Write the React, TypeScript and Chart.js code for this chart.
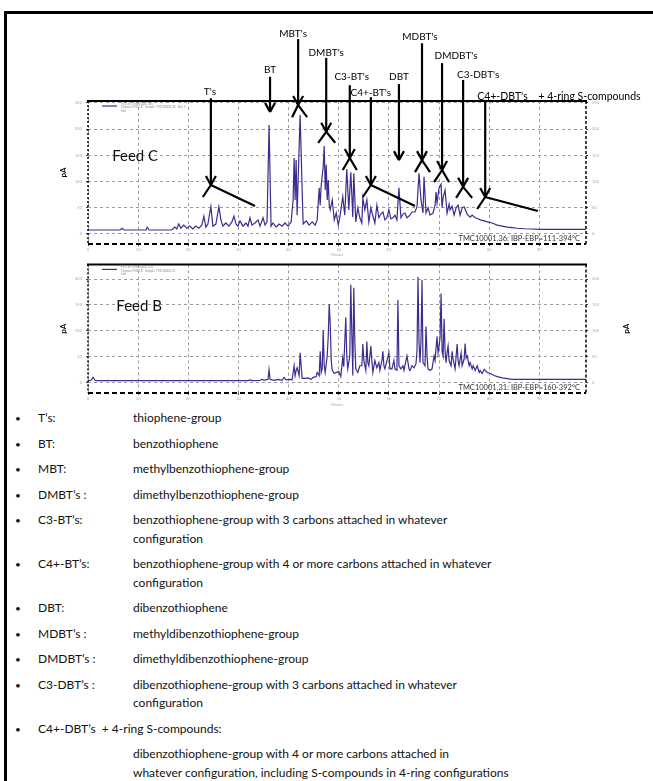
import React, { useEffect, useRef } from "react";
import { Chart, registerables } from "chart.js";

Chart.register(...registerables);

const FONT = "Lato, 'Noto Sans', sans-serif";
const TRACE = "#3d2b8f";

// ---- axes ----
const xTickValues = [0, 10, 20, 30, 40, 50, 60, 70, 80, 90];
const xMaxMinutes = 99.3;
const yTickValues = [0, 50, 100, 150, 200, 250];
const feedCRange = [-19.1, 253.8];
const feedBRange = [-20.8, 228.3];

// ---- Feed C (TMC10001.36) ----
const feedCTime = [
  0, 6.4, 6.8, 7.2, 11.6, 11.8, 12.2, 16.7, 17.3, 17.7,
  18.1, 18.5, 19.1, 19.7, 20.3, 20.9, 21.5, 22.1, 22.7, 23.1,
  23.5, 23.9, 24.5, 24.9, 25.5, 26.1, 26.5, 26.9, 27.5, 28.1,
  28.7, 29.1, 29.5, 29.9, 30.3, 30.9, 31.5, 31.9, 32.3, 32.7,
  33.3, 33.9, 34.3, 34.9, 35.3, 35.7, 36.1, 36.5, 36.9, 37.5,
  38.1, 38.7, 39.3, 39.9, 40.5, 40.9, 41.1, 41.3, 41.5, 41.7,
  41.9, 42.3, 42.7, 42.9, 43.5, 44.1, 44.7, 45.3, 45.7, 46.1,
  46.3, 46.5, 46.9, 47.1, 47.3, 47.5, 47.7, 47.9, 48.1, 48.3,
  48.7, 49.1, 49.5, 49.9, 50.2, 50.8, 51.2, 51.6, 52.0, 52.4,
  52.8, 53.0, 53.4, 53.8, 54.2, 54.6, 54.8, 55.2, 55.6, 56.0,
  56.4, 56.6, 57.2, 57.6, 58.0, 58.4, 58.8, 59.2, 59.6, 60.0,
  60.4, 60.8, 61.2, 61.6, 62.0, 62.4, 62.8, 63.2, 63.6, 64.2,
  64.6, 65.2, 65.6, 66.0, 66.4, 66.8, 67.0, 67.4, 67.8, 68.2,
  68.8, 69.2, 69.4, 69.6, 70.0, 70.4, 70.6, 70.8, 71.2, 71.6,
  72.0, 72.2, 72.6, 73.0, 73.4, 73.8, 74.2, 74.6, 75.0, 75.6,
  76.2, 76.6, 77.2, 77.8, 78.2, 79.0, 79.6, 80.6, 81.6, 82.6,
  83.6, 84.6, 85.6, 87.1, 88.5, 90.1, 99.3,
];
const feedCSignal = [
  7.6, 7.6, 11, 7.6, 7.6, 13, 7.6, 7.6, 13, 9.5,
  19, 11, 17, 11, 15, 9.5, 15, 11, 17, 34,
  13, 19, 52, 15, 19, 52, 27, 15, 21, 15,
  23, 34, 19, 15, 25, 15, 21, 15, 31, 17,
  21, 27, 15, 31, 17, 23, 208, 15, 21, 13,
  19, 15, 21, 15, 23, 65, 145, 65, 141, 36,
  103, 227, 84, 19, 25, 17, 23, 17, 27, 88,
  55, 93, 128, 168, 84, 132, 65, 103, 55, 46,
  65, 27, 40, 17, 31, 71, 36, 124, 46, 118,
  32, 116, 23, 50, 31, 21, 69, 46, 65, 23,
  50, 42, 21, 55, 31, 38, 42, 27, 31, 46,
  29, 31, 36, 27, 88, 31, 38, 40, 31, 36,
  42, 42, 52, 116, 65, 40, 109, 40, 50, 36,
  40, 55, 80, 59, 88, 95, 50, 69, 84, 40,
  57, 46, 53, 36, 50, 55, 36, 50, 52, 38,
  32, 36, 31, 29, 27, 25, 23, 21, 17, 15,
  13, 12, 11, 10, 9.5, 9, 9,
];

// ---- Feed B (TMC10001.31) ----
const feedBTime = [
  0, 0.6, 1.0, 1.4, 1.8, 31.9, 32.3, 32.7, 34.3, 34.7,
  35.1, 35.9, 36.1, 36.3, 37.1, 37.9, 38.7, 39.1, 39.5, 40.3,
  40.7, 41.1, 41.3, 41.5, 41.7, 42.1, 42.3, 42.7, 43.3, 43.9,
  44.5, 44.9, 45.5, 45.7, 46.1, 46.3, 46.5, 46.7, 46.9, 47.1,
  47.3, 47.7, 47.9, 48.1, 48.3, 48.5, 48.7, 49.1, 49.5, 49.7,
  50.0, 50.4, 50.8, 51.0, 51.4, 51.6, 51.8, 52.2, 52.4, 52.6,
  52.8, 53.0, 53.2, 53.4, 53.8, 54.2, 54.6, 54.8, 55.0, 55.4,
  55.6, 55.8, 56.0, 56.4, 56.6, 56.8, 57.2, 57.6, 58.0, 58.2,
  58.6, 58.8, 59.0, 59.2, 59.6, 60.0, 60.2, 60.6, 61.0, 61.2,
  61.6, 61.8, 62.0, 62.4, 62.8, 63.0, 63.4, 63.6, 64.0, 64.2,
  64.6, 65.0, 65.4, 65.6, 65.8, 66.0, 66.2, 66.4, 66.6, 66.8,
  67.2, 67.4, 67.6, 67.8, 68.2, 68.6, 69.0, 69.2, 69.6, 69.8,
  70.0, 70.2, 70.4, 70.6, 70.8, 71.0, 71.2, 71.4, 71.6, 71.8,
  72.0, 72.4, 72.6, 72.8, 73.2, 73.6, 73.8, 74.0, 74.4, 74.6,
  75.0, 75.2, 75.4, 75.6, 76.0, 76.2, 76.6, 76.8, 77.2, 77.6,
  78.0, 78.2, 78.6, 79.0, 79.6, 80.2, 81.0, 81.6, 82.6, 83.6,
  84.6, 85.6, 99.3,
];
const feedBSignal = [
  3.2, 3.8, 9.4, 3.8, 3.2, 3.2, 4.7, 3.2, 3.8, 5.7,
  3.8, 5.7, 24.5, 5.7, 3.8, 5.7, 3.8, 9.4, 4.7, 5.7,
  4.7, 32, 13, 23, 28, 13, 57, 7.5, 7.5, 8.5,
  5.7, 9.4, 11, 19, 13, 60, 19, 26, 100, 32,
  19, 51, 89, 151, 113, 42, 23, 17, 19, 19,
  21, 11, 47, 30, 126, 51, 26, 51, 189, 98,
  13, 183, 79, 26, 19, 32, 32, 74, 42, 23,
  79, 38, 32, 70, 42, 19, 42, 28, 38, 23,
  42, 60, 32, 26, 42, 57, 26, 26, 42, 26,
  23, 160, 32, 26, 32, 23, 42, 51, 26, 23,
  32, 28, 36, 60, 204, 79, 38, 79, 198, 38,
  32, 108, 51, 26, 23, 26, 51, 42, 89, 57,
  70, 87, 172, 60, 51, 123, 60, 38, 57, 70,
  42, 32, 60, 45, 26, 74, 42, 32, 57, 32,
  45, 75, 47, 51, 32, 38, 26, 32, 23, 32,
  19, 23, 17, 25, 19, 17, 13, 11, 8.5, 7,
  5.7, 5.7, 5.7,
];

// ---- compound-group markers on Feed C (minutes / signal units) ----
const markerLabels = ["T's", "BT", "MBT's", "DMBT's", "C3-BT's", "C4+-BT's", "DBT", "MDBT's", "DMDBT's", "C3-DBT's", "C4+-DBT's    + 4-ring S-compounds"];
const markerLabelX = [24.3, 36.3, 40.9, 47.5, 52.6, 56.4, 62.0, 66.2, 73.4, 77.8, 77.6];
const markerLabelY = [271, 313, 383, 345, 300, 269, 300, 376, 340, 303, 263];
const markerLabelAlign = ["center", "center", "center", "center", "center", "center", "center", "center", "center", "center", "left"];
const markerX = [24.5, 36.3, 41.9, 47.5, 52.2, 56.4, 62.0, 66.6, 70.6, 74.8, 79.2];
const markerLineTop = [259, 300, 372, 336, 284, 261, 286, 364, 326, 294, 256];
const markerTip = [93.5, 233, 246, 195, 145, 93.5, 141, 141, 122, 90, 70.6];
const markerLegLeft = [[22.9, 70.6], null, [40.7, 223], [45.9, 174], [50.8, 122], [54.8, 70.6], null, [65.2, 118], [69.0, 99], [73.4, 69], [77.6, 47.7]];
const markerLegRight = [[33.3, 53.4], null, [43.7, 223], [49.3, 174], [53.6, 122], [65.2, 53.4], null, [68.2, 118], [72.0, 99], [76.6, 69], [89.7, 43.9]];

// ---- legend list ----
const listLabels = ["T\u2019s:", "BT:", "MBT:", "DMBT\u2019s :", "C3-BT\u2019s:", "C4+-BT\u2019s:", "DBT:", "MDBT\u2019s :", "DMDBT\u2019s :", "C3-DBT\u2019s :", "C4+-DBT\u2019s  + 4-ring S-compounds:"];
const listDescriptions = [
  ["thiophene-group"],
  ["benzothiophene"],
  ["methylbenzothiophene-group"],
  ["dimethylbenzothiophene-group"],
  ["benzothiophene-group with 3 carbons attached in whatever", "configuration"],
  ["benzothiophene-group with 4 or more carbons attached in whatever", "configuration"],
  ["dibenzothiophene"],
  ["methyldibenzothiophene-group"],
  ["dimethyldibenzothiophene-group"],
  ["dibenzothiophene-group with 3 carbons attached in whatever", "configuration"],
  ["dibenzothiophene-group with 4 or more carbons attached in", "whatever configuration, including S-compounds in 4-ring configurations"],
];

type PanelCfg = {
  title: string;
  titleX: number;
  titleY: number;
  sample: string;
  legendLines: string[];
  rightBlob: boolean;
  markers: boolean;
};

function makePanelPlugin(cfg: PanelCfg) {
  return {
    id: "panel",
    afterDraw(chart: any) {
      const { ctx, chartArea: a, scales } = chart;
      const X = (v: number) => scales.x.getPixelForValue(v);
      const Y = (v: number) => scales.y.getPixelForValue(v);
      const seg = (x1: number, y1: number, x2: number, y2: number) => {
        ctx.beginPath();
        ctx.moveTo(x1, y1);
        ctx.lineTo(x2, y2);
        ctx.stroke();
      };
      ctx.save();
      // frame
      ctx.strokeStyle = "#000";
      ctx.lineWidth = 2;
      ctx.setLineDash([]);
      seg(a.left - 1, a.top, a.right + 1, a.top);
      ctx.setLineDash([5, 3]);
      seg(a.left, a.bottom, a.right, a.bottom);
      ctx.lineWidth = 1.5;
      ctx.setLineDash([2, 2]);
      seg(a.left, a.top, a.left, a.bottom);
      ctx.setLineDash([3, 2]);
      seg(a.right, a.top, a.right, a.bottom);
      ctx.setLineDash([]);

      // in-plot legend
      ctx.strokeStyle = TRACE;
      ctx.lineWidth = 1.2;
      seg(a.left + 14, a.top + 5, a.left + 29, a.top + 5);
      ctx.fillStyle = "#8a8a8a";
      ctx.font = `3px ${FONT}`;
      ctx.textAlign = "left";
      ctx.textBaseline = "middle";
      cfg.legendLines.forEach((t, i) => ctx.fillText(t, a.left + 33, a.top + 3 + i * 3.5));

      // feed title
      ctx.fillStyle = "#111";
      ctx.font = `15px ${FONT}`;
      ctx.textAlign = "center";
      ctx.fillText(cfg.title, X(cfg.titleX), Y(cfg.titleY));

      // sample text
      ctx.fillStyle = "#333";
      ctx.font = `7.5px ${FONT}`;
      ctx.textAlign = "right";
      ctx.fillText(cfg.sample, a.right - 6, a.bottom - 5);

      // y-axis title blobs
      const blob = (x: number) => {
        ctx.save();
        ctx.translate(x, (a.top + a.bottom) / 2);
        ctx.rotate(-Math.PI / 2);
        ctx.fillStyle = "#000";
        ctx.font = `bold 8px ${FONT}`;
        ctx.textAlign = "center";
        ctx.fillText("pA", 0, 0);
        ctx.restore();
      };
      blob(a.left - 25);
      if (cfg.rightBlob) blob(a.right + 40);

      // markers
      if (cfg.markers) {
        ctx.strokeStyle = "#000";
        ctx.lineWidth = 2.2;
        ctx.lineCap = "butt";
        markerLabels.forEach((lab, i) => {
          const mx = X(markerX[i]);
          const tipY = Y(markerTip[i]);
          seg(mx, Y(markerLineTop[i]), mx, tipY);
          seg(mx - 5, tipY - 9, mx, tipY);
          seg(mx + 5, tipY - 9, mx, tipY);
          const l = markerLegLeft[i];
          const r = markerLegRight[i];
          if (l) seg(mx, tipY, X(l[0]), Y(l[1]));
          if (r) seg(mx, tipY, X(r[0]), Y(r[1]));
          ctx.fillStyle = "#000";
          ctx.font = `${i === markerLabels.length - 1 ? 10.5 : 10}px ${FONT}`;
          ctx.textAlign = markerLabelAlign[i] as CanvasTextAlign;
          ctx.fillText(lab, X(markerLabelX[i]), Y(markerLabelY[i]));
        });
      }
      ctx.restore();
    },
  };
}

function buildConfig(times: number[], signal: number[], range: number[], padTop: number, xAxisHeight: number, cfg: PanelCfg) {
  const n = Math.min(times.length, signal.length);
  const points = [] as { x: number; y: number }[];
  for (let i = 0; i < n; i++) points.push({ x: times[i], y: signal[i] });
  const yTicks = yTickValues.filter((v) => v <= range[1]);
  const tickFont = { size: 4, family: FONT };
  const yScale = (pos: string, width: number, onArea: boolean) => ({
    position: pos,
    min: range[0],
    max: range[1],
    afterBuildTicks: (s: any) => {
      s.ticks = yTicks.map((v) => ({ value: v }));
    },
    afterFit: (s: any) => {
      s.width = width;
    },
    grid: { display: true, drawOnChartArea: onArea, color: "#9c9c9c", lineWidth: 1, drawTicks: true, tickLength: 2, tickColor: "#444" },
    border: { display: false, dash: [3, 3] },
    ticks: { font: tickFont, color: "#a8a8a8", padding: 4 },
  });
  return {
    type: "line",
    data: {
      datasets: [
        {
          data: points,
          borderColor: TRACE,
          borderWidth: 1.2,
          pointRadius: 0,
          tension: 0,
          fill: false,
        },
      ],
    },
    options: {
      animation: false,
      responsive: false,
      maintainAspectRatio: false,
      layout: { padding: { top: padTop, left: 0, right: 0, bottom: 0 } },
      plugins: { legend: { display: false }, tooltip: { enabled: false } },
      scales: {
        x: {
          type: "linear",
          min: 0,
          max: xMaxMinutes,
          afterBuildTicks: (s: any) => {
            s.ticks = xTickValues.map((v) => ({ value: v }));
          },
          afterFit: (s: any) => {
            s.height = xAxisHeight;
          },
          grid: { color: "#9c9c9c", lineWidth: 1, drawTicks: true, tickLength: 2, tickColor: "#444" },
          border: { display: false, dash: [3, 3] },
          ticks: { font: tickFont, color: "#a8a8a8", padding: 1, maxRotation: 0 },
          title: { display: true, text: "Minutes", font: { size: 3.5, family: FONT }, color: "#a8a8a8", padding: { top: 0, bottom: 1 } },
        },
        y: yScale("left", 88, true),
        y2: yScale("right", 67, false),
      },
    },
    plugins: [makePanelPlugin(cfg)],
  } as any;
}

export default function App() {
  const topRef = useRef<HTMLCanvasElement>(null);
  const botRef = useRef<HTMLCanvasElement>(null);

  useEffect(() => {
    const c1 = new Chart(
      topRef.current as HTMLCanvasElement,
      buildConfig(feedCTime, feedCSignal, feedCRange, 101, 14, {
        title: "Feed C",
        titleX: 9.4,
        titleY: 149,
        sample: "TMC10001.36: IBP-EBP=111-394\u00B0C",
        legendLines: ["FID1 B, (TMC10001.36)", "Channel: FID1 B   Sample: TMC10001.36   Run 1", "5ml"],
        rightBlob: false,
        markers: true,
      })
    );
    const c2 = new Chart(
      botRef.current as HTMLCanvasElement,
      buildConfig(feedBTime, feedBSignal, feedBRange, 3, 15, {
        title: "Feed B",
        titleX: 10.2,
        titleY: 147,
        sample: "TMC10001.31: IBP-EBP=160-392\u00B0C",
        legendLines: ["FID1 B, (TMC10001.31)", "Channel: FID1 B   Sample: TMC10001.31", "5ml"],
        rightBlob: true,
        markers: false,
      })
    );
    return () => {
      c1.destroy();
      c2.destroy();
    };
  }, []);

  const last = listLabels.length - 1;
  return (
    <div style={{ position: "absolute", left: 0, top: 0, width: 653, height: 781, background: "#fff", overflow: "hidden", fontFamily: FONT }}>
      <div style={{ position: "absolute", left: 4, top: 11, width: 700, height: 800, borderLeft: "3px solid #000", borderTop: "3px solid #000" }} />
      <canvas ref={topRef} width={653} height={258} style={{ position: "absolute", left: 0, top: 0, width: 653, height: 258 }} />
      <canvas ref={botRef} width={653} height={150} style={{ position: "absolute", left: 0, top: 258, width: 653, height: 150 }} />
      <div style={{ position: "absolute", left: 0, top: 409, width: 653, fontSize: 12, lineHeight: "18.5px", color: "#111" }}>
        {listLabels.map((lab, i) => (
          <div key={i} style={{ position: "relative", marginTop: i ? 7 : 0 }}>
            <span style={{ position: "absolute", left: 15, fontSize: 10 }}>{"\u2022"}</span>
            {i < last ? (
              <>
                <span style={{ position: "absolute", left: 38, whiteSpace: "pre" }}>{lab}</span>
                <div style={{ marginLeft: 133 }}>
                  {listDescriptions[i].map((t, j) => (
                    <div key={j} style={{ whiteSpace: "pre" }}>{t}</div>
                  ))}
                </div>
              </>
            ) : (
              <>
                <div style={{ marginLeft: 38, whiteSpace: "pre" }}>{lab}</div>
                <div style={{ marginLeft: 133, marginTop: 7 }}>
                  {listDescriptions[i].map((t, j) => (
                    <div key={j} style={{ whiteSpace: "pre" }}>{t}</div>
                  ))}
                </div>
              </>
            )}
          </div>
        ))}
      </div>
    </div>
  );
}
